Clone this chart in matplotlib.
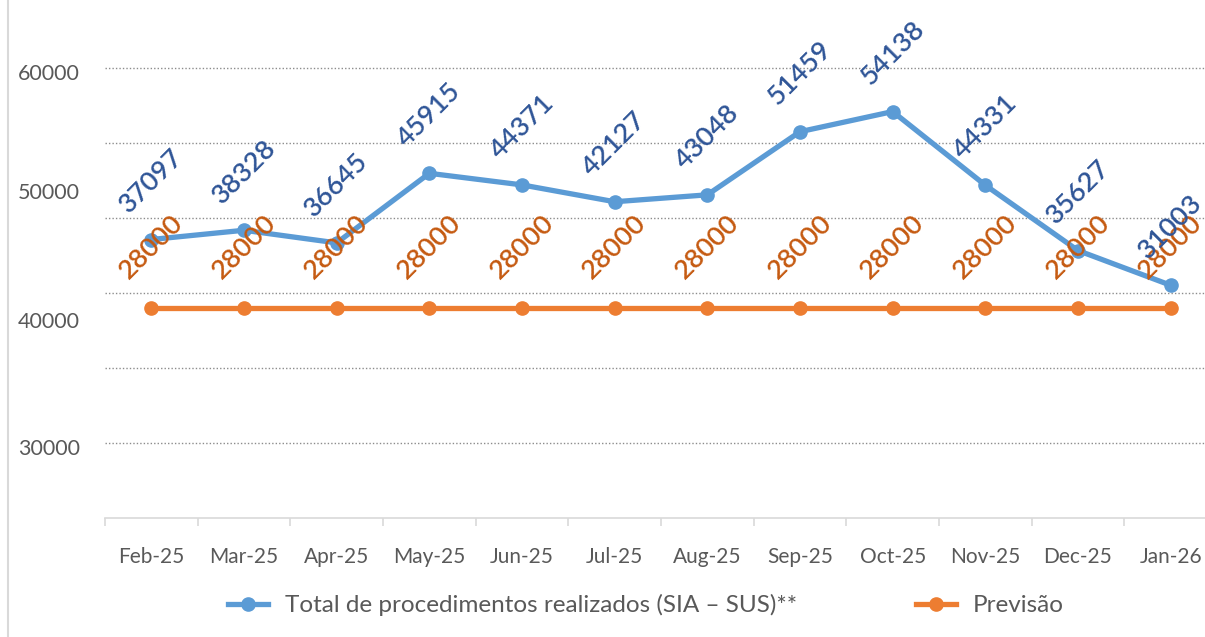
import matplotlib
matplotlib.use("Agg")
import matplotlib.pyplot as plt
from matplotlib.lines import Line2D

months = ["Feb-25", "Mar-25", "Apr-25", "May-25", "Jun-25", "Jul-25",
          "Aug-25", "Sep-25", "Oct-25", "Nov-25", "Dec-25", "Jan-26"]
realizados = [37097, 38328, 36645, 45915, 44371, 42127,
              43048, 51459, 54138, 44331, 35627, 31003]
previsao = [28000] * 12
ytick_labels = ["30000", "40000", "50000", "60000"]
series_names = ["Total de procedimentos realizados (SIA – SUS)**", "Previsão"]

plt.rcParams["font.family"] = ["Lato", "DejaVu Sans"]

W, H = 1205, 637
fig = plt.figure(figsize=(W / 100, H / 100), dpi=100)
ax = fig.add_axes([105 / W, 1 - 518 / H, (1217 - 105) / W, 518 / H])

blue, orange = "#5B9BD5", "#ED7D31"
blue_lbl, orange_lbl = "#2F5597", "#C55A11"
x = list(range(len(months)))

l1, = ax.plot(x, realizados, color=blue, lw=3.8, marker="o", ms=9.5, zorder=3,
              solid_capstyle="round")
l2, = ax.plot(x, previsao, color=orange, lw=3.8, marker="o", ms=9.5, zorder=3,
              solid_capstyle="round")

for xi, v in zip(x, previsao):
    ax.annotate(str(v), (xi, v), xytext=(0, 44), textcoords="offset points",
                rotation=45, ha="center", va="center", rotation_mode="anchor",
                fontsize=19.5, color=orange_lbl, zorder=4, fontweight="semibold")
for xi, v in zip(x, realizados):
    ax.annotate(str(v), (xi, v), xytext=(0, 42), textcoords="offset points",
                rotation=45, ha="center", va="center", rotation_mode="anchor",
                fontsize=19.5, color=blue_lbl, zorder=5, fontweight="semibold")

ax.set_xlim(-0.5, len(months) - 0.5)
ax.set_ylim(0, 69000)

# gridlines every 10000
for g in range(10000, 70000, 10000):
    ax.axhline(g, color="#8C8C8C", lw=1.0, ls=(0, (1, 1.5)), zorder=1)

# y tick labels (placed as in the reference image)
label_pos = [9470, 26400, 43600, 59470]
ax.set_yticks(label_pos)
ax.set_yticklabels(ytick_labels)
ax.tick_params(axis="y", length=0, pad=18, labelsize=15.5, labelcolor="#595959")

ax.set_xticks(x)
ax.set_xticklabels(months)
ax.set_xticks([i - 0.5 for i in range(len(months) + 1)], minor=True)
ax.tick_params(axis="x", which="major", length=0, pad=21, labelsize=15,
               labelcolor="#595959")
ax.tick_params(axis="x", which="minor", length=6, color="#D9D9D9", width=1.2)

for s in ["top", "right", "left"]:
    ax.spines[s].set_visible(False)
ax.spines["bottom"].set_color("#D9D9D9")
ax.spines["bottom"].set_linewidth(1.2)

fig.add_artist(Line2D([8 / W, 8 / W], [0, 1], color="#D9D9D9", lw=1.5,
                     transform=fig.transFigure))

h1 = Line2D([], [], color=blue, lw=3.8, marker="o", ms=9.5)
h2 = Line2D([], [], color=orange, lw=3.8, marker="o", ms=9.5)
fig.legend([h1, h2], series_names, loc="center", bbox_to_anchor=(646 / W, 1 - 605 / H),
           ncol=2, frameon=False, fontsize=17.5, labelcolor="#595959",
           handlelength=1.65, handletextpad=0.7, columnspacing=4.9)

fig.savefig("out.png", dpi=100)
